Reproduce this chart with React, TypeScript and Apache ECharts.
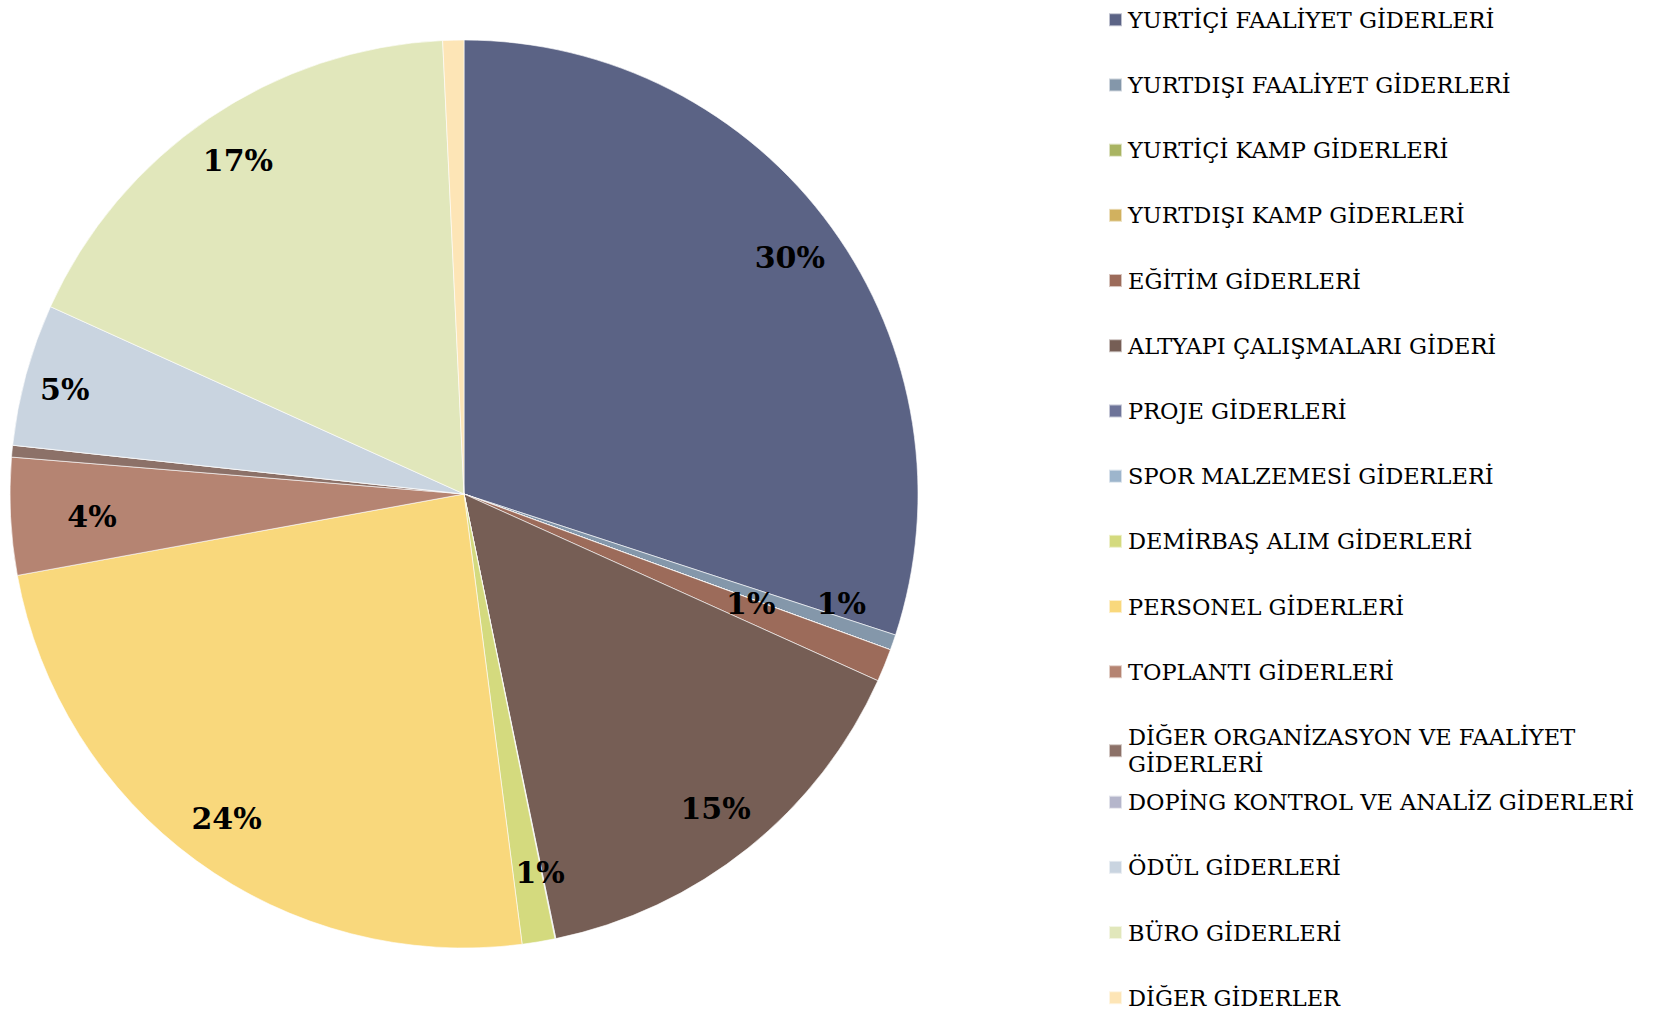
import React, { useEffect, useRef } from "react";
import * as echarts from "echarts";

const categories = [
  "YURTİÇİ FAALİYET GİDERLERİ",
  "YURTDIŞI FAALİYET GİDERLERİ",
  "YURTİÇİ KAMP GİDERLERİ",
  "YURTDIŞI KAMP GİDERLERİ",
  "EĞİTİM GİDERLERİ",
  "ALTYAPI ÇALIŞMALARI GİDERİ",
  "PROJE GİDERLERİ",
  "SPOR MALZEMESİ GİDERLERİ",
  "DEMİRBAŞ ALIM GİDERLERİ",
  "PERSONEL GİDERLERİ",
  "TOPLANTI GİDERLERİ",
  "DİĞER ORGANİZASYON VE FAALİYET GİDERLERİ",
  "DOPİNG KONTROL VE ANALİZ GİDERLERİ",
  "ÖDÜL GİDERLERİ",
  "BÜRO GİDERLERİ",
  "DİĞER GİDERLER",
];

// share of total (%)
const shares = [30.06, 0.55, 0, 0, 1.17, 15.03, 0.02, 0.01, 1.17, 24.2, 4.17, 0.42, 0, 5.06, 17.5, 0.75];

// which slices carry a percentage label in the reference
const labelled = [true, true, false, false, true, true, false, false, true, true, true, false, false, true, true, false];

const palette = [
  "#5B6385", "#8497AA", "#A9B462", "#D1B15F", "#9C6B5A", "#765E55", "#6E7499", "#9DB5CC",
  "#D4DA7E", "#F9D87C", "#B58472", "#8C7168", "#B5B6CB", "#C9D4E0", "#E1E7BB", "#FDE5B6",
];

const legendWrap: Record<string, string> = {
  "DİĞER ORGANİZASYON VE FAALİYET GİDERLERİ": "DİĞER ORGANİZASYON VE FAALİYET\nGİDERLERİ",
};

const labelNudges: Record<number, [number, number]> = {
  1: [-3, -22],
  4: [-86, -42],
  8: [10, -19],
  10: [30, 3],
  13: [-11, 2],
};

export default function App() {
  const ref = useRef<HTMLDivElement>(null);
  useEffect(() => {
    if (!ref.current) return;
    const chart = echarts.init(ref.current, undefined, { renderer: "svg" });
    const R = 454;
    const center = [464, 494];
    const font = "DejaVu Serif";
    const fs = 22.5;
    const option: any = {
      animation: false,
      backgroundColor: "#ffffff",
      legend: categories.map((name, i) => {
        const wrapped = legendWrap[name];
        const cy = 19.5 + i * 65.2 + (wrapped ? 14 : 0);
        return {
          data: [name],
          orient: "horizontal",
          left: 1108,
          top: wrapped ? cy - 1.5 * 27 : cy - fs / 2,
          padding: 0,
          itemWidth: 13,
          itemHeight: 13,
          icon: "rect",
          selectedMode: false,
          formatter: (n: string) => legendWrap[n] || n,
          textStyle: {
            fontFamily: font,
            fontSize: fs,
            color: "#000",
            lineHeight: wrapped ? 27 : fs,
            padding: wrapped ? [27, 0, 0, 1] : [0, 0, 0, 1],
          },
        };
      }),
      series: [
        {
          type: "pie",
          center,
          radius: R,
          startAngle: 90,
          clockwise: true,
          silent: true,
          avoidLabelOverlap: false,
          label: { show: false },
          labelLine: { show: false },
          emphasis: { disabled: true },
          itemStyle: { borderColor: "rgba(255,255,255,0.6)", borderWidth: 1 },
          data: categories.map((n, i) => ({
            name: n,
            value: shares[i],
            itemStyle: { color: palette[i] },
          })),
        },
        {
          type: "pie",
          center,
          radius: [345, R],
          startAngle: 90,
          clockwise: true,
          silent: true,
          legendHoverLink: false,
          avoidLabelOverlap: false,
          percentPrecision: 2,
          itemStyle: { color: "rgba(0,0,0,0)", borderWidth: 0 },
          emphasis: { disabled: true },
          labelLine: { show: false },
          label: {
            show: true,
            position: "inside",
            formatter: (p: any) => Math.round(p.percent) + "%",
            fontFamily: font,
            fontWeight: "bold",
            fontSize: 30,
            color: "#000",
          },
          data: categories.map((n, i) => ({
            name: n,
            value: shares[i],
            label: { show: labelled[i], offset: labelNudges[i] || [0, 0] },
          })),
        },
      ],
    };
    chart.setOption(option);
    return () => chart.dispose();
  }, []);
  return (
    <div
      ref={ref}
      style={{ position: "fixed", left: 0, top: 0, width: 1662, height: 1010 }}
    />
  );
}
